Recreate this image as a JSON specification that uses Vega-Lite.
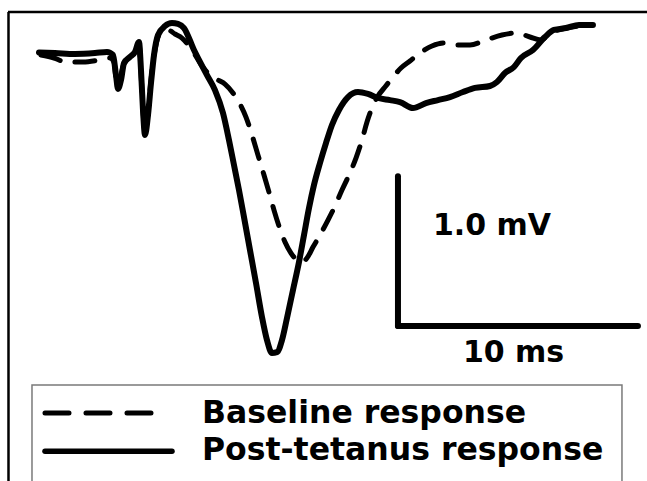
{
  "$schema": "https://vega.github.io/schema/vega-lite/v6.json",
  "width": 647,
  "height": 481,
  "autosize": {"type": "none"},
  "padding": 0,
  "background": "white",
  "config": {"view": {"stroke": null}},
  "datasets": {
    "traces": [
      {"series": "Post-tetanus response", "t": 1.625, "v": 0.0},
      {"series": "Post-tetanus response", "t": 2.292, "v": -0.004},
      {"series": "Post-tetanus response", "t": 3.125, "v": -0.01},
      {"series": "Post-tetanus response", "t": 3.958, "v": -0.004},
      {"series": "Post-tetanus response", "t": 4.458, "v": 0.003},
      {"series": "Post-tetanus response", "t": 4.708, "v": -0.017},
      {"series": "Post-tetanus response", "t": 4.833, "v": -0.151},
      {"series": "Post-tetanus response", "t": 4.917, "v": -0.244},
      {"series": "Post-tetanus response", "t": 5.042, "v": -0.184},
      {"series": "Post-tetanus response", "t": 5.167, "v": -0.071},
      {"series": "Post-tetanus response", "t": 5.417, "v": -0.03},
      {"series": "Post-tetanus response", "t": 5.625, "v": 0.003},
      {"series": "Post-tetanus response", "t": 5.792, "v": 0.07},
      {"series": "Post-tetanus response", "t": 5.875, "v": -0.117},
      {"series": "Post-tetanus response", "t": 5.958, "v": -0.384},
      {"series": "Post-tetanus response", "t": 6.042, "v": -0.551},
      {"series": "Post-tetanus response", "t": 6.167, "v": -0.418},
      {"series": "Post-tetanus response", "t": 6.292, "v": -0.204},
      {"series": "Post-tetanus response", "t": 6.417, "v": -0.017},
      {"series": "Post-tetanus response", "t": 6.583, "v": 0.116},
      {"series": "Post-tetanus response", "t": 6.875, "v": 0.176},
      {"series": "Post-tetanus response", "t": 7.167, "v": 0.196},
      {"series": "Post-tetanus response", "t": 7.417, "v": 0.19},
      {"series": "Post-tetanus response", "t": 7.667, "v": 0.163},
      {"series": "Post-tetanus response", "t": 8.083, "v": 0.016},
      {"series": "Post-tetanus response", "t": 8.625, "v": -0.151},
      {"series": "Post-tetanus response", "t": 8.958, "v": -0.251},
      {"series": "Post-tetanus response", "t": 9.292, "v": -0.404},
      {"series": "Post-tetanus response", "t": 9.542, "v": -0.585},
      {"series": "Post-tetanus response", "t": 9.75, "v": -0.751},
      {"series": "Post-tetanus response", "t": 9.958, "v": -0.918},
      {"series": "Post-tetanus response", "t": 10.167, "v": -1.099},
      {"series": "Post-tetanus response", "t": 10.417, "v": -1.319},
      {"series": "Post-tetanus response", "t": 10.667, "v": -1.539},
      {"series": "Post-tetanus response", "t": 10.917, "v": -1.766},
      {"series": "Post-tetanus response", "t": 11.125, "v": -1.92},
      {"series": "Post-tetanus response", "t": 11.333, "v": -2.006},
      {"series": "Post-tetanus response", "t": 11.542, "v": -2.0},
      {"series": "Post-tetanus response", "t": 11.75, "v": -1.92},
      {"series": "Post-tetanus response", "t": 11.958, "v": -1.773},
      {"series": "Post-tetanus response", "t": 12.208, "v": -1.586},
      {"series": "Post-tetanus response", "t": 12.458, "v": -1.399},
      {"series": "Post-tetanus response", "t": 12.667, "v": -1.219},
      {"series": "Post-tetanus response", "t": 12.875, "v": -1.039},
      {"series": "Post-tetanus response", "t": 13.083, "v": -0.885},
      {"series": "Post-tetanus response", "t": 13.333, "v": -0.738},
      {"series": "Post-tetanus response", "t": 13.583, "v": -0.605},
      {"series": "Post-tetanus response", "t": 13.833, "v": -0.484},
      {"series": "Post-tetanus response", "t": 14.125, "v": -0.384},
      {"series": "Post-tetanus response", "t": 14.5, "v": -0.298},
      {"series": "Post-tetanus response", "t": 14.917, "v": -0.264},
      {"series": "Post-tetanus response", "t": 15.333, "v": -0.277},
      {"series": "Post-tetanus response", "t": 15.75, "v": -0.304},
      {"series": "Post-tetanus response", "t": 16.25, "v": -0.318},
      {"series": "Post-tetanus response", "t": 16.667, "v": -0.331},
      {"series": "Post-tetanus response", "t": 17.208, "v": -0.371},
      {"series": "Post-tetanus response", "t": 17.75, "v": -0.338},
      {"series": "Post-tetanus response", "t": 18.25, "v": -0.318},
      {"series": "Post-tetanus response", "t": 18.75, "v": -0.298},
      {"series": "Post-tetanus response", "t": 19.292, "v": -0.264},
      {"series": "Post-tetanus response", "t": 19.792, "v": -0.237},
      {"series": "Post-tetanus response", "t": 20.417, "v": -0.224},
      {"series": "Post-tetanus response", "t": 20.708, "v": -0.197},
      {"series": "Post-tetanus response", "t": 21.042, "v": -0.137},
      {"series": "Post-tetanus response", "t": 21.417, "v": -0.097},
      {"series": "Post-tetanus response", "t": 21.708, "v": -0.037},
      {"series": "Post-tetanus response", "t": 22.208, "v": 0.016},
      {"series": "Post-tetanus response", "t": 22.708, "v": 0.103},
      {"series": "Post-tetanus response", "t": 23.083, "v": 0.15},
      {"series": "Post-tetanus response", "t": 23.583, "v": 0.163},
      {"series": "Post-tetanus response", "t": 24.125, "v": 0.183},
      {"series": "Post-tetanus response", "t": 24.708, "v": 0.183},
      {"series": "Baseline response", "t": 1.708, "v": -0.017},
      {"series": "Baseline response", "t": 2.25, "v": -0.037},
      {"series": "Baseline response", "t": 2.75, "v": -0.064},
      {"series": "Baseline response", "t": 3.458, "v": -0.064},
      {"series": "Baseline response", "t": 4.125, "v": -0.051},
      {"series": "Baseline response", "t": 4.583, "v": -0.037},
      {"series": "Baseline response", "t": 4.75, "v": -0.064},
      {"series": "Baseline response", "t": 4.875, "v": -0.217},
      {"series": "Baseline response", "t": 5.0, "v": -0.171},
      {"series": "Baseline response", "t": 5.167, "v": -0.077},
      {"series": "Baseline response", "t": 5.417, "v": -0.037},
      {"series": "Baseline response", "t": 5.625, "v": -0.004},
      {"series": "Baseline response", "t": 5.792, "v": 0.056},
      {"series": "Baseline response", "t": 5.875, "v": -0.131},
      {"series": "Baseline response", "t": 5.958, "v": -0.384},
      {"series": "Baseline response", "t": 6.042, "v": -0.538},
      {"series": "Baseline response", "t": 6.167, "v": -0.404},
      {"series": "Baseline response", "t": 6.292, "v": -0.184},
      {"series": "Baseline response", "t": 6.458, "v": 0.016},
      {"series": "Baseline response", "t": 6.708, "v": 0.136},
      {"series": "Baseline response", "t": 7.0, "v": 0.15},
      {"series": "Baseline response", "t": 7.292, "v": 0.123},
      {"series": "Baseline response", "t": 7.583, "v": 0.096},
      {"series": "Baseline response", "t": 8.083, "v": -0.004},
      {"series": "Baseline response", "t": 8.417, "v": -0.091},
      {"series": "Baseline response", "t": 8.75, "v": -0.151},
      {"series": "Baseline response", "t": 9.083, "v": -0.184},
      {"series": "Baseline response", "t": 9.375, "v": -0.211},
      {"series": "Baseline response", "t": 9.708, "v": -0.271},
      {"series": "Baseline response", "t": 10.0, "v": -0.344},
      {"series": "Baseline response", "t": 10.25, "v": -0.431},
      {"series": "Baseline response", "t": 10.5, "v": -0.551},
      {"series": "Baseline response", "t": 10.75, "v": -0.685},
      {"series": "Baseline response", "t": 11.0, "v": -0.818},
      {"series": "Baseline response", "t": 11.208, "v": -0.932},
      {"series": "Baseline response", "t": 11.417, "v": -1.052},
      {"series": "Baseline response", "t": 11.625, "v": -1.159},
      {"series": "Baseline response", "t": 11.875, "v": -1.265},
      {"series": "Baseline response", "t": 12.125, "v": -1.339},
      {"series": "Baseline response", "t": 12.375, "v": -1.386},
      {"series": "Baseline response", "t": 12.583, "v": -1.399},
      {"series": "Baseline response", "t": 12.792, "v": -1.372},
      {"series": "Baseline response", "t": 13.042, "v": -1.299},
      {"series": "Baseline response", "t": 13.333, "v": -1.219},
      {"series": "Baseline response", "t": 13.667, "v": -1.119},
      {"series": "Baseline response", "t": 13.958, "v": -1.025},
      {"series": "Baseline response", "t": 14.25, "v": -0.918},
      {"series": "Baseline response", "t": 14.542, "v": -0.818},
      {"series": "Baseline response", "t": 14.833, "v": -0.705},
      {"series": "Baseline response", "t": 15.083, "v": -0.585},
      {"series": "Baseline response", "t": 15.292, "v": -0.464},
      {"series": "Baseline response", "t": 15.5, "v": -0.371},
      {"series": "Baseline response", "t": 15.75, "v": -0.291},
      {"series": "Baseline response", "t": 16.042, "v": -0.231},
      {"series": "Baseline response", "t": 16.375, "v": -0.164},
      {"series": "Baseline response", "t": 16.708, "v": -0.104},
      {"series": "Baseline response", "t": 17.083, "v": -0.057},
      {"series": "Baseline response", "t": 17.5, "v": -0.004},
      {"series": "Baseline response", "t": 18.0, "v": 0.043},
      {"series": "Baseline response", "t": 18.5, "v": 0.063},
      {"series": "Baseline response", "t": 19.042, "v": 0.05},
      {"series": "Baseline response", "t": 19.583, "v": 0.05},
      {"series": "Baseline response", "t": 20.25, "v": 0.083},
      {"series": "Baseline response", "t": 20.917, "v": 0.116},
      {"series": "Baseline response", "t": 21.542, "v": 0.13},
      {"series": "Baseline response", "t": 22.083, "v": 0.103},
      {"series": "Baseline response", "t": 22.542, "v": 0.083},
      {"series": "Baseline response", "t": 22.917, "v": 0.13},
      {"series": "Baseline response", "t": 23.417, "v": 0.156},
      {"series": "Baseline response", "t": 24.083, "v": 0.176},
      {"series": "Baseline response", "t": 24.667, "v": 0.183}
    ],
    "frame": [
      {"t": 0.333, "v": 0.27, "t2": 26.96, "v2": 0.27},
      {"t": 0.354, "v": 0.27, "t2": 0.354, "v2": -2.86}
    ],
    "scalebar": [
      {"t": 16.583, "v": -0.826, "t2": 16.583, "v2": -1.826},
      {"t": 16.583, "v": -1.826, "t2": 26.583, "v2": -1.826}
    ],
    "voltlabel": [
      {"label": "1.0 mV", "t": 18.04, "v": -1.219}
    ],
    "timelabel": [
      {"label": "10 ms", "t": 21.4, "v": -2.067}
    ],
    "legendbox": [
      {"t": 1.333, "v": -2.22, "t2": 25.917, "v2": -3.0}
    ],
    "legendsym": [
      {"series": "Baseline response", "t": 1.875, "t2": 6.542, "v": -2.407, "lt": 8.417, "lv": -2.474},
      {"series": "Post-tetanus response", "t": 1.875, "t2": 7.167, "v": -2.661, "lt": 8.417, "lv": -2.721}
    ]
  },
  "layer": [
    {
      "data": {"name": "frame"},
      "mark": {"type": "rule", "color": "black", "strokeWidth": 2.5},
      "encoding": {
        "x": {"field": "t", "type": "quantitative", "scale": {"domain": [0, 26.96]}, "axis": null},
        "y": {"field": "v", "type": "quantitative", "scale": {"domain": [-2.86, 0.35]}, "axis": null},
        "x2": {"field": "t2"},
        "y2": {"field": "v2"}
      }
    },
    {
      "data": {"name": "traces"},
      "transform": [{"filter": "datum.series == 'Baseline response'"}],
      "mark": {"type": "line", "color": "black", "strokeWidth": 5, "strokeDash": [20, 15], "strokeCap": "round", "interpolate": "monotone"},
      "encoding": {
        "x": {"field": "t", "type": "quantitative", "scale": {"domain": [0, 26.96]}, "axis": null},
        "y": {"field": "v", "type": "quantitative", "scale": {"domain": [-2.86, 0.35]}, "axis": null}
      }
    },
    {
      "data": {"name": "traces"},
      "transform": [{"filter": "datum.series == 'Post-tetanus response'"}],
      "mark": {"type": "line", "color": "black", "strokeWidth": 6, "strokeCap": "round", "strokeJoin": "round", "interpolate": "monotone"},
      "encoding": {
        "x": {"field": "t", "type": "quantitative", "scale": {"domain": [0, 26.96]}, "axis": null},
        "y": {"field": "v", "type": "quantitative", "scale": {"domain": [-2.86, 0.35]}, "axis": null}
      }
    },
    {
      "data": {"name": "scalebar"},
      "mark": {"type": "rule", "color": "black", "strokeWidth": 6, "strokeCap": "round"},
      "encoding": {
        "x": {"field": "t", "type": "quantitative", "scale": {"domain": [0, 26.96]}, "axis": null},
        "y": {"field": "v", "type": "quantitative", "scale": {"domain": [-2.86, 0.35]}, "axis": null},
        "x2": {"field": "t2"},
        "y2": {"field": "v2"}
      }
    },
    {
      "data": {"name": "voltlabel"},
      "mark": {"type": "text", "color": "black", "font": "DejaVu Sans", "fontWeight": "bold", "fontSize": 30, "align": "left", "baseline": "alphabetic"},
      "encoding": {
        "x": {"field": "t", "type": "quantitative", "scale": {"domain": [0, 26.96]}, "axis": null},
        "y": {"field": "v", "type": "quantitative", "scale": {"domain": [-2.86, 0.35]}, "axis": null},
        "text": {"field": "label"}
      }
    },
    {
      "data": {"name": "timelabel"},
      "mark": {"type": "text", "color": "black", "font": "DejaVu Sans", "fontWeight": "bold", "fontSize": 30, "align": "center", "baseline": "alphabetic"},
      "encoding": {
        "x": {"field": "t", "type": "quantitative", "scale": {"domain": [0, 26.96]}, "axis": null},
        "y": {"field": "v", "type": "quantitative", "scale": {"domain": [-2.86, 0.35]}, "axis": null},
        "text": {"field": "label"}
      }
    },
    {
      "data": {"name": "legendbox"},
      "mark": {"type": "rect", "fill": "white", "stroke": "#7a7a7a", "strokeWidth": 1.5},
      "encoding": {
        "x": {"field": "t", "type": "quantitative", "scale": {"domain": [0, 26.96]}, "axis": null},
        "y": {"field": "v", "type": "quantitative", "scale": {"domain": [-2.86, 0.35]}, "axis": null},
        "x2": {"field": "t2"},
        "y2": {"field": "v2"}
      }
    },
    {
      "data": {"name": "legendsym"},
      "transform": [{"filter": "datum.series == 'Baseline response'"}],
      "mark": {"type": "rule", "color": "black", "strokeWidth": 5, "strokeDash": [24, 17], "strokeCap": "round"},
      "encoding": {
        "x": {"field": "t", "type": "quantitative", "scale": {"domain": [0, 26.96]}, "axis": null},
        "y": {"field": "v", "type": "quantitative", "scale": {"domain": [-2.86, 0.35]}, "axis": null},
        "x2": {"field": "t2"}
      }
    },
    {
      "data": {"name": "legendsym"},
      "transform": [{"filter": "datum.series == 'Post-tetanus response'"}],
      "mark": {"type": "rule", "color": "black", "strokeWidth": 5.5, "strokeCap": "round"},
      "encoding": {
        "x": {"field": "t", "type": "quantitative", "scale": {"domain": [0, 26.96]}, "axis": null},
        "y": {"field": "v", "type": "quantitative", "scale": {"domain": [-2.86, 0.35]}, "axis": null},
        "x2": {"field": "t2"}
      }
    },
    {
      "data": {"name": "legendsym"},
      "mark": {"type": "text", "color": "black", "font": "DejaVu Sans", "fontWeight": "bold", "fontSize": 31.5, "align": "left", "baseline": "alphabetic"},
      "encoding": {
        "x": {"field": "lt", "type": "quantitative", "scale": {"domain": [0, 26.96]}, "axis": null},
        "y": {"field": "lv", "type": "quantitative", "scale": {"domain": [-2.86, 0.35]}, "axis": null},
        "text": {"field": "series"}
      }
    }
  ]
}
